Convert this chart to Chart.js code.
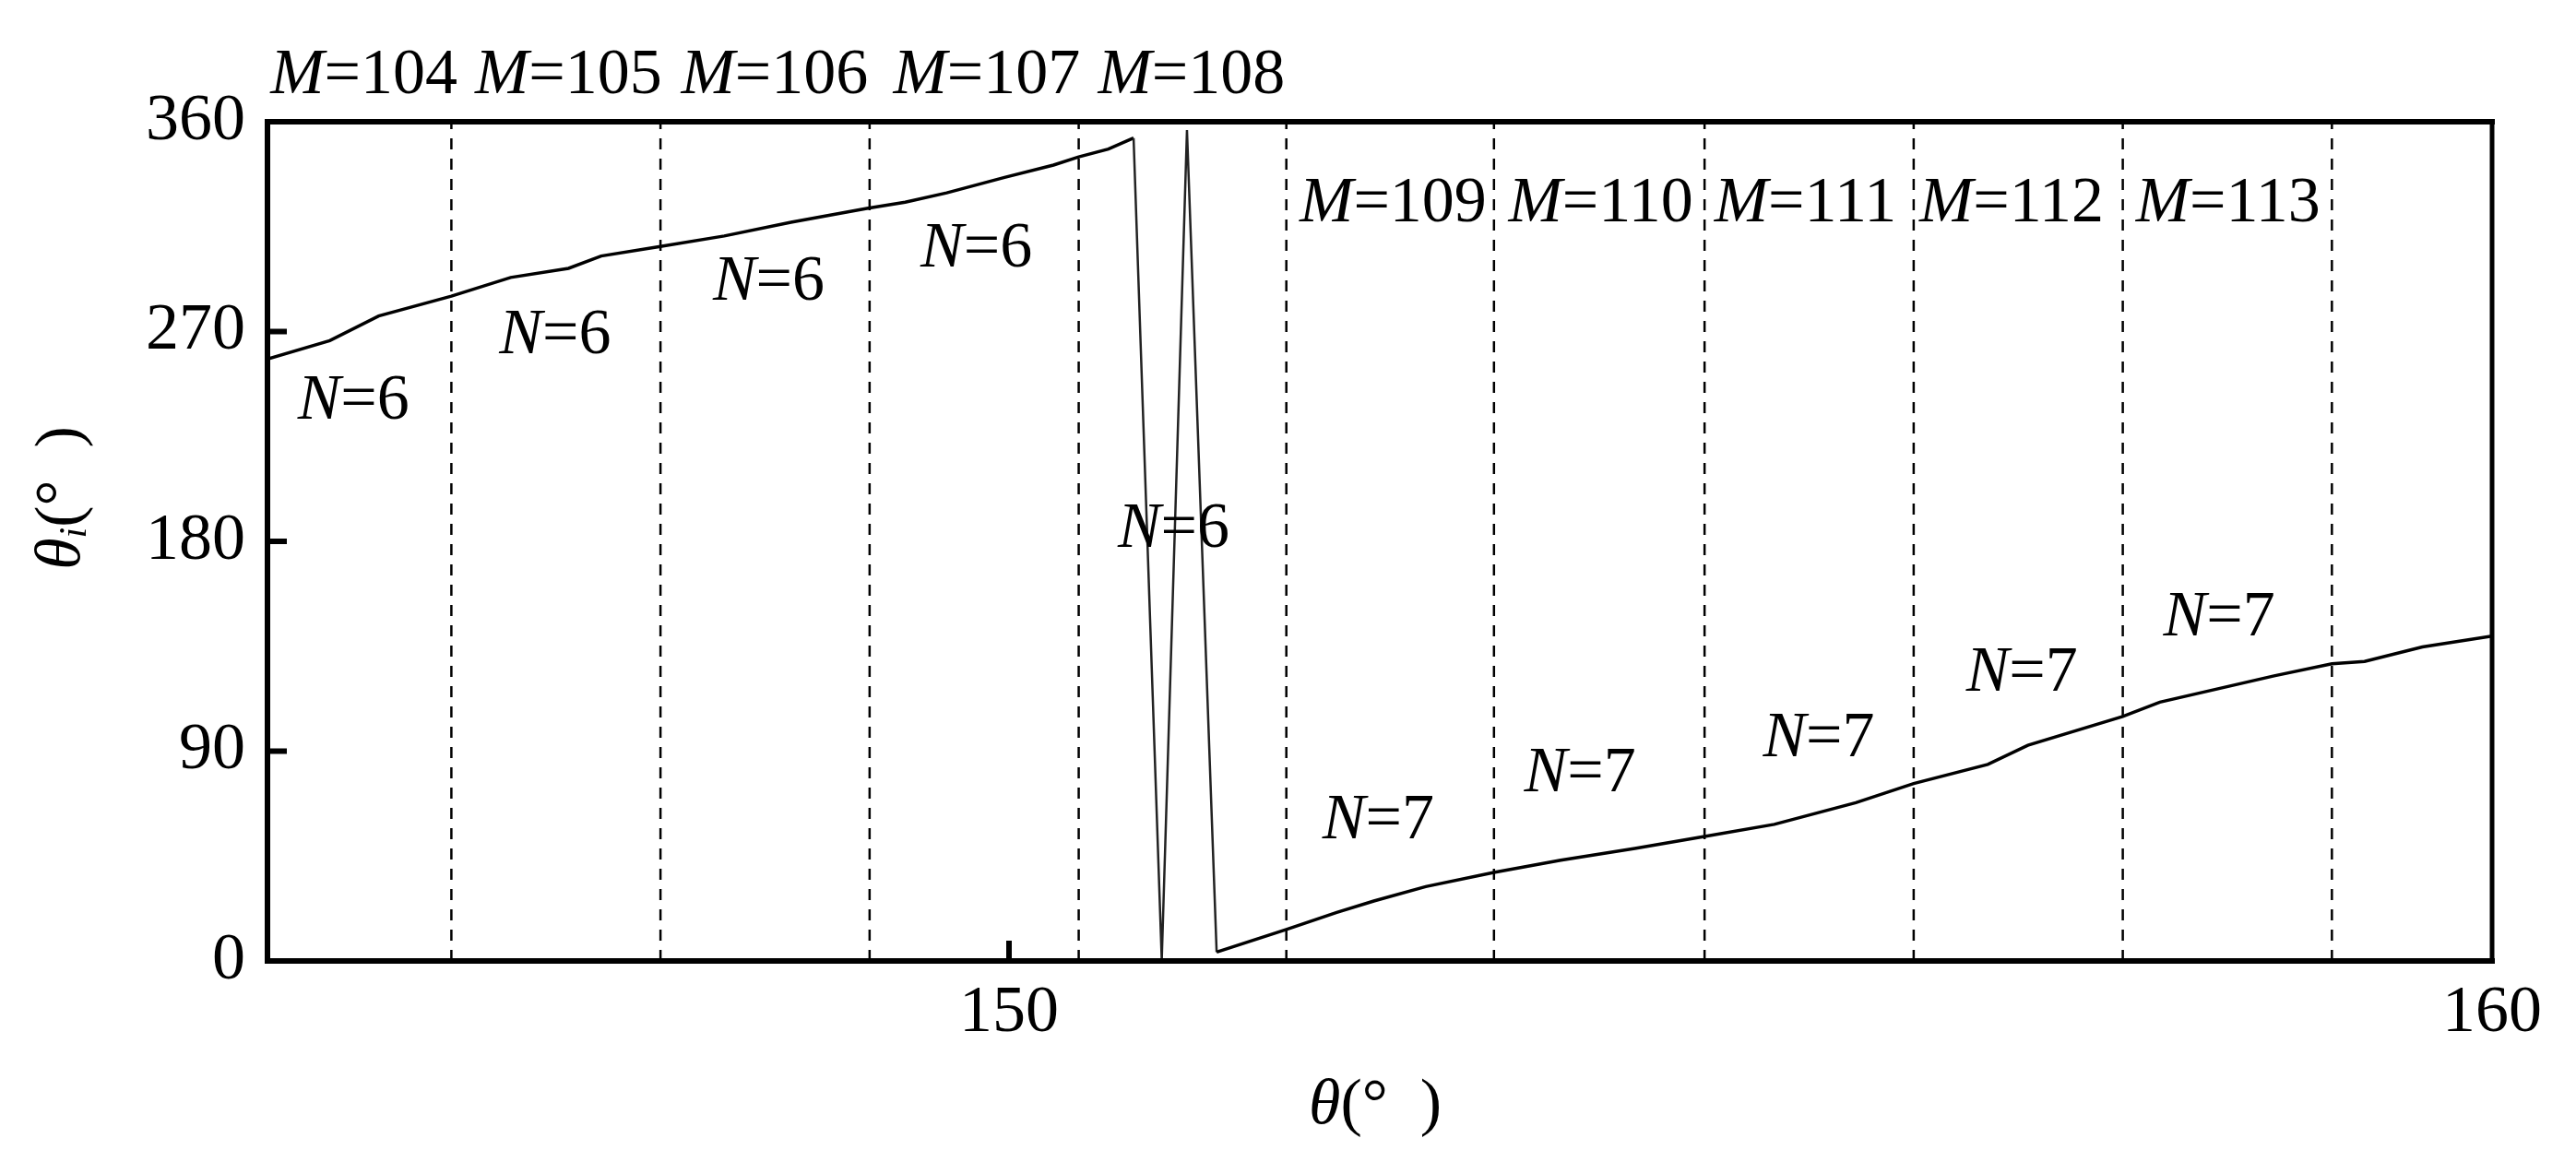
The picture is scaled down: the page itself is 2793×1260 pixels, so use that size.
<!DOCTYPE html>
<html>
<head>
<meta charset="utf-8">
<script src="https://cdn.jsdelivr.net/npm/chart.js@4.4.1/dist/chart.umd.min.js"></script>
<style>
  html, body { margin: 0; padding: 0; background: #fff; }
  canvas { display: block; }
</style>
</head>
<body>
<canvas id="chart" width="2793" height="1260"></canvas>
<script>
// ---- datos ----
const thetaDeg = [
  145.00, 145.42, 145.75, 146.24, 146.64, 147.03, 147.25, 147.64, 148.08, 148.53,
  149.05, 149.30, 149.58, 149.97, 150.30, 150.47, 150.67, 150.84, 151.03, 151.20,
  151.40, 151.87, 152.21, 152.46, 152.81, 153.27, 153.72, 154.22, 154.69, 155.16,
  155.71, 156.10, 156.60, 156.87, 157.51, 157.76, 158.53, 158.92, 159.14, 159.53, 160.00
];
const thetaI = [
  258.2, 266.1, 276.7, 285.2, 293.2, 297.1, 302.4, 306.4, 311.0, 316.9,
  322.9, 325.5, 329.5, 336.1, 341.4, 344.9, 348.3, 353.0, 0.5, 356.4,
  3.8, 13.5, 20.8, 25.7, 31.9, 38.0, 43.2, 48.3, 53.4, 58.6,
  67.9, 76.1, 84.3, 92.5, 104.9, 111.0, 122.3, 127.5, 128.5, 134.7, 139.4
];
// limites entre zonas M (lineas discontinuas)
const boundaries = [146.24, 147.65, 149.06, 150.47, 151.87, 153.27, 154.69, 156.10, 157.51, 158.92];
const mValues = ['104', '105', '106', '107', '108', '109', '110', '111', '112', '113'];
const nValues = ['6', '6', '6', '6', '6', '7', '7', '7', '7', '7'];
const yTicks = [0, 90, 180, 270, 360];
const xTicks = [150, 160];

// ---- ubicacion de las etiquetas (coordenadas de datos) ----
const mLabelX = [145.65, 147.03, 148.42, 149.85, 151.23, 152.59, 153.99, 155.37, 156.76, 158.22];
const mLabelY = [379.5, 379.5, 379.5, 379.5, 379.5, 324.5, 324.5, 324.5, 324.5, 324.5];
const nLabelX = [145.58, 146.94, 148.38, 149.78, 151.11, 152.49, 153.85, 155.46, 156.83, 158.16];
const nLabelY = [240, 268, 291, 305, 185, 60, 80, 95, 123, 147];

const FONT = '"Liberation Serif", "Times New Roman", serif';
const FS = 70;      // etiquetas M / N y titulos
const TICK_FS = 72; // numeros de los ejes

function fontOf(p) {
  return (p.i ? 'italic ' : '') + Math.round(FS * (p.s || 1)) + 'px ' + FONT;
}

function richText(ctx, parts, x, y) {
  let w = 0;
  parts.forEach(p => { ctx.font = fontOf(p); p.w = ctx.measureText(p.t).width; w += p.w; });
  let cx = x - w / 2;
  parts.forEach(p => {
    ctx.font = fontOf(p);
    ctx.fillText(p.t, cx, y + (p.dy || 0));
    cx += p.w;
  });
}

const frameAndLabels = {
  id: 'frameAndLabels',
  afterDraw(chart) {
    const { ctx, chartArea: a } = chart;
    const xs = chart.scales.x, ys = chart.scales.y;
    ctx.save();
    ctx.strokeStyle = '#000';
    ctx.fillStyle = '#000';

    // marco
    ctx.lineWidth = 6;
    ctx.lineCap = 'square';
    ctx.beginPath();
    ctx.moveTo(a.right, a.top); ctx.lineTo(a.left, a.top);
    ctx.lineTo(a.left, a.bottom); ctx.lineTo(a.right, a.bottom);
    ctx.stroke();
    ctx.lineWidth = 5;
    ctx.beginPath();
    ctx.moveTo(a.right, a.top); ctx.lineTo(a.right, a.bottom);
    ctx.stroke();

    // ticks hacia adentro
    ctx.lineCap = 'butt';
    ctx.lineWidth = 6;
    ys.ticks.forEach(t => {
      if (t.value === 0 || t.value === 360) return;
      const py = ys.getPixelForValue(t.value);
      ctx.beginPath(); ctx.moveTo(a.left, py); ctx.lineTo(a.left + 21, py); ctx.stroke();
    });
    xs.ticks.forEach(t => {
      if (t.value === 160) return;
      const px = xs.getPixelForValue(t.value);
      ctx.beginPath(); ctx.moveTo(px, a.bottom); ctx.lineTo(px, a.bottom - 22); ctx.stroke();
    });

    // etiquetas M y N
    ctx.textBaseline = 'middle';
    mValues.forEach((m, i) => {
      richText(ctx, [{ t: 'M', i: true }, { t: '=' + m }],
        xs.getPixelForValue(mLabelX[i]), ys.getPixelForValue(mLabelY[i]));
    });
    nValues.forEach((n, i) => {
      richText(ctx, [{ t: 'N', i: true }, { t: '=' + n }],
        xs.getPixelForValue(nLabelX[i]), ys.getPixelForValue(nLabelY[i]));
    });

    // titulos de ejes
    richText(ctx, [{ t: '\u03b8', i: true }, { t: '(\u00b0  )' }],
      (a.left + a.right) / 2 - 5, a.bottom + 158);
    ctx.translate(a.left - 222, (a.top + a.bottom) / 2 - 47);
    ctx.rotate(-Math.PI / 2);
    richText(ctx, [{ t: '\u03b8', i: true }, { t: 'i', i: true, s: 0.6, dy: 14 }, { t: '(\u00b0  )' }], 0, 0);
    ctx.restore();
  }
};

const steep = c => Math.abs(c.p1.parsed.y - c.p0.parsed.y) > 150;

const datasets = [{
  data: thetaDeg.map((x, i) => ({ x, y: thetaI[i] })),
  showLine: true,
  borderColor: '#000',
  borderWidth: 3.5,
  pointRadius: 0,
  tension: 0,
  segment: {
    borderWidth: c => steep(c) ? 2.5 : undefined,
    borderColor: c => steep(c) ? '#222' : undefined,
  }
}];
boundaries.forEach(b => {
  datasets.push({
    data: [{ x: b, y: 0 }, { x: b, y: 360 }],
    showLine: true,
    borderColor: '#000',
    borderWidth: 2.5,
    borderDash: [12, 10],
    pointRadius: 0,
  });
});

new Chart(document.getElementById('chart'), {
  type: 'scatter',
  data: { datasets },
  options: {
    responsive: false,
    animation: false,
    layout: { padding: { left: 0, top: 132, right: 91, bottom: 0 } },
    plugins: { legend: { display: false }, tooltip: { enabled: false } },
    scales: {
      x: {
        type: 'linear', min: 145, max: 160,
        grid: { display: false, drawTicks: false },
        border: { display: false },
        afterBuildTicks: s => { s.ticks = xTicks.map(v => ({ value: v })); },
        afterFit: s => { s.height = 218; },
        ticks: { font: { family: FONT, size: TICK_FS }, color: '#000', padding: 14, maxRotation: 0, autoSkip: false }
      },
      y: {
        min: 0, max: 360,
        grid: { display: false, drawTicks: false },
        border: { display: false },
        afterBuildTicks: s => { s.ticks = yTicks.map(v => ({ value: v })); },
        afterFit: s => { s.width = 290; },
        ticks: { font: { family: FONT, size: TICK_FS }, color: '#000', padding: 24 }
      }
    }
  },
  plugins: [frameAndLabels]
});
</script>
</body>
</html>
